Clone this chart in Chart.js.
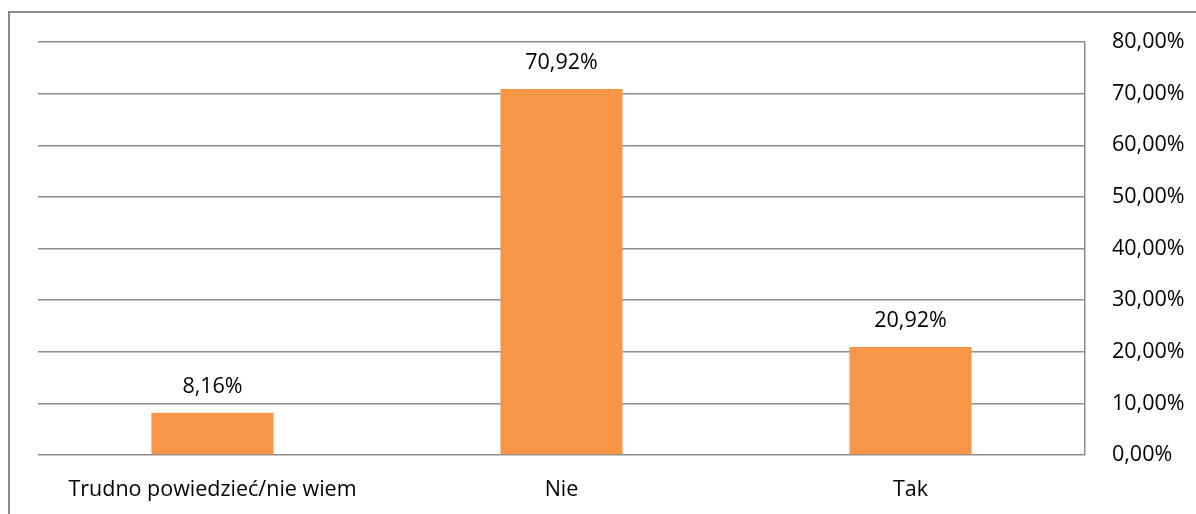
<!DOCTYPE html>
<html>
<head>
<meta charset="utf-8">
<script src="https://cdn.jsdelivr.net/npm/chart.js@4/dist/chart.umd.min.js"></script>
<style>
    html, body {
        margin: 0;
        padding: 0;
        background: #FFFFFF;
        overflow: hidden;
    }
    #frame {
        position: absolute;
        left: 8px;
        top: 11px;
        width: 1400px;
        height: 700px;
        border: 2px solid #8A8A8A;
    }
    #chart {
        position: absolute;
        left: 0;
        top: 0;
    }
</style>
</head>
<body>
<div id="frame"></div>
<canvas id="chart" width="1196" height="514"></canvas>
<script>
const categories = ['Trudno powiedzieć/nie wiem', 'Nie', 'Tak'];
const shares = [8.16, 70.92, 20.92];
const yTicks = [0, 10, 20, 30, 40, 50, 60, 70, 80];

const COLORS = {
    bar: '#F79646',
    grid: '#8E8E8E',
    text: '#000000'
};

const FONT = {
    family: '"Open Sans", sans-serif',
    size: 21.5
};

const formatPercent = v => v.toFixed(2).replace('.', ',') + '%';

// labels above each bar
const barLabelPlugin = {
    id: 'barLabel',
    afterDatasetsDraw(chart) {
        const { ctx } = chart;
        const meta = chart.getDatasetMeta(0);

        ctx.save();
        ctx.font = `${FONT.size}px ${FONT.family}`;
        ctx.fillStyle = COLORS.text;
        ctx.textAlign = 'center';
        ctx.textBaseline = 'middle';

        meta.data.forEach((bar, i) => {
            ctx.fillText(formatPercent(shares[i]), bar.x, bar.y - 26);
        });

        ctx.restore();
    }
};

new Chart(document.getElementById('chart').getContext('2d'), {
    type: 'bar',
    data: {
        labels: categories,
        datasets: [{
            data: shares,
            backgroundColor: COLORS.bar,
            borderWidth: 0,
            categoryPercentage: 1,
            barPercentage: 0.35
        }]
    },
    plugins: [barLabelPlugin],
    options: {
        responsive: false,
        animation: false,
        devicePixelRatio: 1,
        layout: {
            padding: {
                left: 38,
                top: 42,
                right: 0,
                bottom: 0
            }
        },
        plugins: {
            legend: { display: false },
            tooltip: { enabled: false }
        },
        scales: {
            x: {
                grid: { display: false },
                border: { display: false },
                ticks: {
                    color: COLORS.text,
                    font: FONT,
                    padding: 14,
                    maxRotation: 0
                },
                afterFit: scale => {
                    scale.height = 59;
                }
            },
            y: {
                position: 'right',
                min: 0,
                max: 80,
                afterBuildTicks: scale => {
                    scale.ticks = yTicks.map(value => ({ value }));
                },
                grid: {
                    color: COLORS.grid,
                    lineWidth: 1.5,
                    drawTicks: false
                },
                border: {
                    display: true,
                    color: COLORS.grid,
                    width: 1.5
                },
                ticks: {
                    color: COLORS.text,
                    font: FONT,
                    padding: 27,
                    callback: v => formatPercent(v)
                },
                afterFit: scale => {
                    scale.width = 111;
                }
            }
        }
    }
});
</script>
</body>
</html>
